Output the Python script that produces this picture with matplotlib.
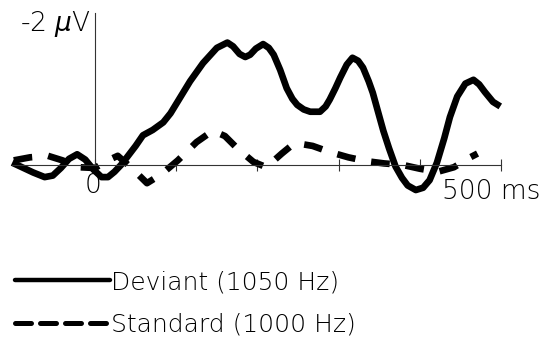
import matplotlib
matplotlib.use("Agg")
import matplotlib.pyplot as plt
from matplotlib.lines import Line2D

# time (ms) and amplitude (uV, negative plotted upward)
dev_t = [-102, -88, -76, -62, -52, -42, -32, -22, -12, -2, 8, 16, 24, 32, 40, 50,
         59, 71, 84, 93, 101, 117, 133, 150, 163, 170, 178, 185, 191, 198, 207,
         214, 220, 228, 236, 243, 249, 257, 265, 277, 284, 289, 296, 302, 310,
         317, 324, 330, 337, 342, 349, 355, 362, 370, 378, 385, 395, 404, 412,
         421, 430, 437, 446, 456, 466, 473, 480, 490, 499]
dev_v = [-0.03, 0.04, 0.10, 0.16, 0.14, 0.04, -0.08, -0.14, -0.07, 0.06, 0.16,
         0.16, 0.09, 0.0, -0.11, -0.25, -0.39, -0.46, -0.56, -0.68, -0.82, -1.10,
         -1.34, -1.54, -1.61, -1.56, -1.46, -1.42, -1.45, -1.53, -1.59, -1.54,
         -1.45, -1.25, -1.01, -0.87, -0.79, -0.73, -0.70, -0.70, -0.77, -0.86,
         -1.01, -1.15, -1.32, -1.41, -1.37, -1.28, -1.10, -0.95, -0.68, -0.45,
         -0.22, 0.02, 0.17, 0.27, 0.33, 0.30, 0.20, -0.03, -0.35, -0.63, -0.90,
         -1.07, -1.12, -1.06, -0.96, -0.83, -0.77]

std_t = [-100, -80, -58, -40, -20, 0, 14, 28, 45, 64, 82, 102, 125, 145, 160,
         175, 195, 211, 230, 246, 268, 289, 312, 334, 356, 379, 400, 422, 442,
         462, 471]
std_v = [-0.06, -0.10, -0.12, -0.06, 0.03, 0.04, -0.05, -0.12, 0.04, 0.24, 0.12,
         -0.06, -0.30, -0.45, -0.38, -0.22, -0.04, 0.03, -0.15, -0.29, -0.25,
         -0.17, -0.10, -0.05, -0.02, 0.0, 0.05, 0.09, 0.03, -0.10, -0.15]

labels = ["Deviant (1050 Hz)", "Standard (1000 Hz)"]
x_ticks = [0, 100, 200, 300, 400, 500]

fig = plt.figure(figsize=(5.49, 3.39), dpi=100)
ax = fig.add_axes([0, 0, 1, 1])
ax.patch.set_visible(False)
ax.set_xlim(-117, 559)
ax.set_ylim(2.29, -2.17)

# axes drawn through the origin
for s in ['top', 'right']:
    ax.spines[s].set_visible(False)
ax.spines['bottom'].set_position(('data', 0))
ax.spines['bottom'].set_bounds(-102, 500)
ax.spines['left'].set_position(('data', 0))
ax.spines['left'].set_bounds(0, -2)
for s in ['bottom', 'left']:
    ax.spines[s].set_linewidth(0.8)
    ax.spines[s].set_color('#333333')
ax.set_xticks(x_ticks)
ax.set_yticks([])
ax.tick_params(axis='x', direction='inout', length=8, width=0.8,
               color='#333333', labelbottom=False)

ax.plot(dev_t, dev_v, color='black', lw=4.8, solid_capstyle='butt',
        solid_joinstyle='round')
ax.plot(std_t, std_v, color='black', lw=4.8, dashes=(2.8, 2.4),
        dash_capstyle='butt')

txt = dict(fontsize=19, fontweight='light')
ax.text(-6, -1.86, r'-2 $\mu$V', ha='right', va='center', **txt)
ax.text(-3, 0.27, '0', ha='center', va='center', **txt)
ax.text(427, 0.35, '500 ms', ha='left', va='center', **txt)

handles = [
    Line2D([], [], color='black', lw=3.2, solid_capstyle='round'),
    Line2D([], [], color='black', lw=3.6, dashes=(3.2, 1.8),
           dash_capstyle='round'),
]
ax.legend(handles, labels, loc='upper left', bbox_to_anchor=(0.027, 0.203),
          frameon=False, prop={'size': 18, 'weight': 'light'},
          handlelength=3.8, handletextpad=0.05,
          labelspacing=0.75, borderpad=0, borderaxespad=0)

fig.savefig('out.png', dpi=100)
